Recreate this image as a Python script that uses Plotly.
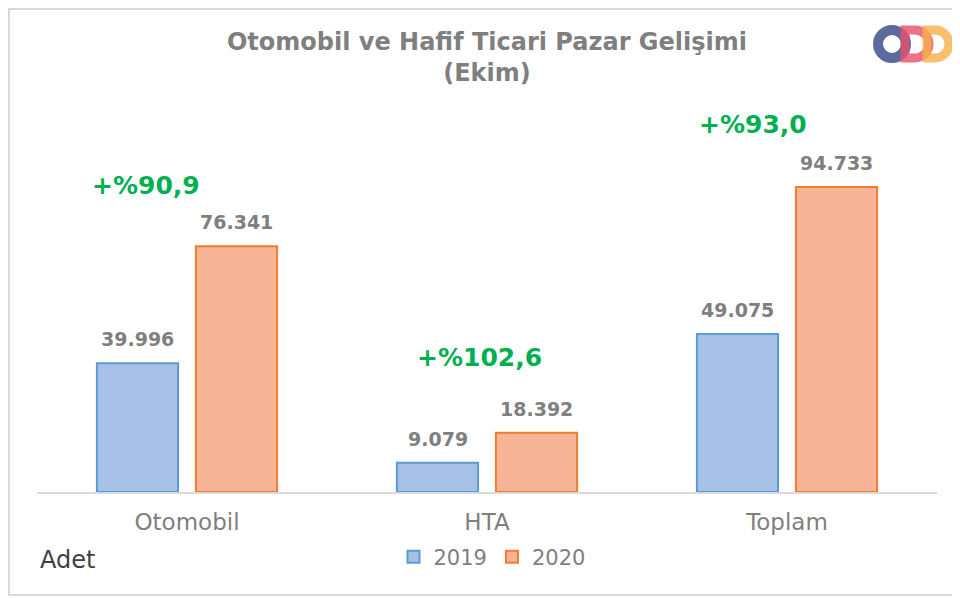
import plotly.graph_objects as go

categories = ["Otomobil", "HTA", "Toplam"]
sales_2019 = [39996, 9079, 49075]
sales_2020 = [76341, 18392, 94733]
years = ["2019", "2020"]

W, H = 960, 598
OFF = 8  # page body margin, screen coords = figure coords + 8
L, R, T, B = 29, 31, 92, 114
PW, PH = W - L - R, H - T - B
FONT = "DejaVu Sans, sans-serif"
GRAY = "#7F7F7F"


def px(x, y):
    # screen pixel -> paper coordinates
    return (x - OFF - L) / PW, (H - B - (y - OFF)) / PH


def fmt(v):
    return f"{v:,}".replace(",", ".")


fig = go.Figure()
fig.add_trace(go.Bar(x=categories, y=sales_2019, name=years[0],
                     marker=dict(color="#A6C1E5", line=dict(color="#5B9BD5", width=2))))
fig.add_trace(go.Bar(x=categories, y=sales_2020, name=years[1],
                     marker=dict(color="#F6B395", line=dict(color="#ED7D31", width=2))))

ymax = 94733 * (PH / 305)
slot = PW / 3 * (1 - 0.34) / 2

annotations = []
growth_shift = [(-41, 61), (-8, 75), (-34, 63)]
for i, cat in enumerate(categories):
    for j, vals in enumerate([sales_2019, sales_2020]):
        annotations.append(dict(x=i, y=vals[i], xref="x", yref="y", text="<b>" + fmt(vals[i]) + "</b>",
                                showarrow=False, yanchor="bottom", xshift=(j - 0.5) * slot, yshift=11,
                                font=dict(family=FONT, size=19, color=GRAY)))
    growth = (sales_2020[i] / sales_2019[i] - 1) * 100
    gtxt = "+%" + f"{growth:.1f}".replace(".", ",")
    dx, dy = growth_shift[i]
    annotations.append(dict(x=i, y=sales_2020[i], xref="x", yref="y", text="<b>" + gtxt + "</b>",
                            showarrow=False, yanchor="middle", xshift=dx, yshift=dy,
                            font=dict(family=FONT, size=25, color="#00B050")))

ax, ay = px(38, 560)
annotations.append(dict(x=ax, y=ay, xref="paper", yref="paper", text="Adet", showarrow=False,
                        xanchor="left", yanchor="middle", font=dict(family=FONT, size=24, color="#404040")))

# outer frame
x0, y0 = px(OFF + 1, 595)
x1, y1 = px(W + 20, OFF + 1)
shapes = [dict(type="rect", xref="paper", yref="paper", x0=x0, y0=y0, x1=x1, y1=y1,
               line=dict(color="#D9D9D9", width=2))]

# logo: O + two D's
cx0, cy0 = px(878, 30)
cx1, cy1 = px(906, 58)
shapes.append(dict(type="circle", xref="paper", yref="paper", x0=cx0, y0=cy1, x1=cx1, y1=cy0,
                   line=dict(color="#4A5C96", width=10), opacity=0.9, layer="above"))


def d_path(xl, yt, xr, yb):
    r = (yb - yt) / 2
    xm = xr - r
    yc = yt + r
    k = 0.5523 * r
    pts = [("M", [(xl, yt)]), ("L", [(xm, yt)]),
           ("C", [(xm + k, yt), (xr, yc - k), (xr, yc)]),
           ("C", [(xr, yc + k), (xm + k, yb), (xm, yb)]),
           ("L", [(xl, yb)])]
    s = ""
    for cmd, ps in pts:
        s += cmd + " ".join(f"{px(a, b)[0]:.5f},{px(a, b)[1]:.5f}" for a, b in ps)
    return s + "Z"


shapes.append(dict(type="path", xref="paper", yref="paper", path=d_path(905, 30, 929, 58),
                   line=dict(color="#E8506A", width=9), opacity=0.8, layer="above"))
shapes.append(dict(type="path", xref="paper", yref="paper", path=d_path(927, 30, 949, 58),
                   line=dict(color="#F7B04A", width=9), opacity=0.8, layer="above"))

lx, ly = px(492, 557)
fig.update_layout(
    width=W, height=H,
    margin=dict(l=L, r=R, t=T, b=B),
    paper_bgcolor="white", plot_bgcolor="white",
    title=dict(text="<b>Otomobil ve Hafif Ticari Pazar Gelişimi<br>(Ekim)</b>", x=(487 - OFF) / W,
               xanchor="center", y=1 - (50 - OFF) / H, yanchor="middle",
               font=dict(family=FONT, size=24, color=GRAY)),
    barmode="group", bargap=0.34, bargroupgap=0.18,
    xaxis=dict(showline=True, linecolor="#D9D9D9", linewidth=2, ticks="", showgrid=False,
               tickfont=dict(family=FONT, size=23, color=GRAY), ticklabelstandoff=8),
    yaxis=dict(visible=False, range=[0, ymax], showgrid=False, zeroline=False),
    legend=dict(orientation="h", x=lx, xanchor="center", y=ly, yanchor="middle",
                font=dict(family=FONT, size=21, color=GRAY), itemwidth=30),
    showlegend=True,
    annotations=annotations,
    shapes=shapes,
)

fig.write_html("out.html")
